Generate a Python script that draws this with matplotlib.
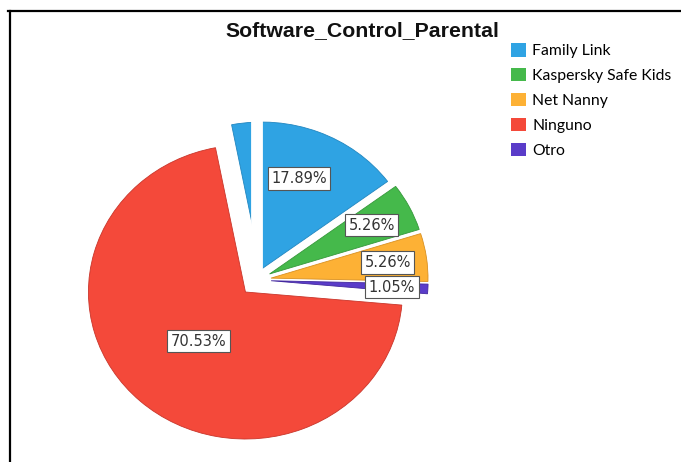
import numpy as np
import matplotlib
matplotlib.use('Agg')
import matplotlib.pyplot as plt
from matplotlib.lines import Line2D

# data (counts, n = 95)
categories = ['Family Link', 'Kaspersky Safe Kids', 'Net Nanny', 'Ninguno', 'Otro']
counts = [17, 5, 5, 67, 1]
colors = ['#2fa3e3', '#45b94b', '#fdb135', '#f4493a', '#5a3cc9']
edges = ['#2186c0', '#35983a', '#d99020', '#c9352a', '#43289e']

# slice order in the pie (clockwise from the top)
pie_order = [0, 1, 2, 4, 3]
explode_by_cat = [0.08, 0.09, 0.09, 0.11, 0.09]
label_dist = [0.74, 0.82, 0.84, 0.56, 0.86]

W, H = 681, 462
fig = plt.figure(figsize=(W / 100, H / 100), dpi=100)
fig.patch.set_facecolor('white')

# pie axes: the original is a little wider than tall
cx, cy, Rx, Ry = 257, 280, 157, 147
ax = fig.add_axes([(cx - 200) / W, (H - cy - 180) / H, 400 / W, 360 / H])

vals = [counts[i] for i in pie_order]
cols = [colors[i] for i in pie_order]
expl = [explode_by_cat[i] for i in pie_order]
total = sum(counts)

wedges, _ = ax.pie(vals, colors=cols, explode=expl, startangle=101,
                   counterclock=False, radius=1,
                   wedgeprops=dict(linewidth=0.6))
for w, i in zip(wedges, pie_order):
    w.set_edgecolor(edges[i])

ax.set_aspect('auto')
ax.set_xlim(-200 / Rx, 200 / Rx)
ax.set_ylim(-180 / Ry, 180 / Ry)
ax.axis('off')

# white gap straight up at 12 o'clock, splitting the first slice
ax.plot([0, 0], [0, 1.3], color='white', lw=8.5, solid_capstyle='butt', zorder=5)

# percentage labels
for w, i in zip(wedges, pie_order):
    mid = np.deg2rad((w.theta1 + w.theta2) / 2)
    d = label_dist[i]
    ax.text(d * np.cos(mid), d * np.sin(mid),
            f'{counts[i] / total * 100:.2f}%', ha='center', va='center',
            fontsize=10.5, color='#333333', zorder=6,
            bbox=dict(boxstyle='square,pad=0.25', fc='white', ec='#555555', lw=0.8))

fig.text(362 / W, 1 - 31 / H, 'Software_Control_Parental', ha='center', va='center',
         fontsize=15.3, fontweight='bold', family='Liberation Sans', color='#111111')

handles = [plt.Rectangle((0, 0), 1, 1, fc=c, ec='none') for c in colors]
fig.legend(handles, categories, loc='upper left', bbox_to_anchor=(511 / W, 1 - 43 / H),
           frameon=False, prop={'family': 'Lato', 'size': 11.3}, handlelength=0.95,
           handleheight=0.95, handletextpad=0.4, labelspacing=0.62, borderaxespad=0,
           borderpad=0)

# frame lines (top and left only)
fig.add_artist(Line2D([8 / W, 1], [1 - 11 / H, 1 - 11 / H], color='black', lw=1.6))
fig.add_artist(Line2D([10 / W, 10 / W], [0, 1 - 11 / H], color='black', lw=1.6))

fig.savefig('out.png', dpi=100, facecolor='white')
